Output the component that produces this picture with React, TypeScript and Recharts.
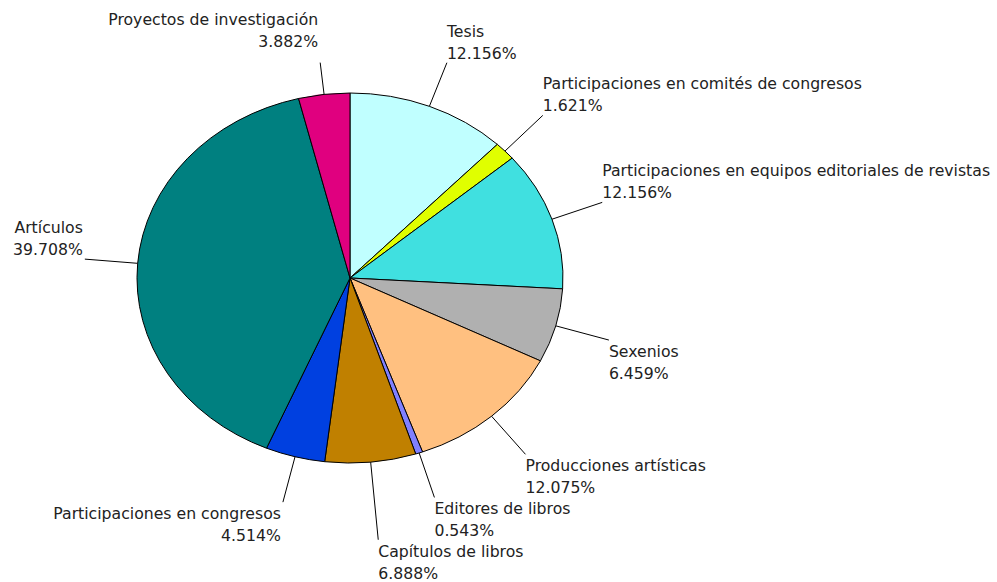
import { PieChart, Pie, Cell } from 'recharts'

const categories = [
  'Tesis',
  'Participaciones en comités de congresos',
  'Participaciones en equipos editoriales de revistas',
  'Sexenios',
  'Producciones artísticas',
  'Editores de libros',
  'Capítulos de libros',
  'Participaciones en congresos',
  'Artículos',
  'Proyectos de investigación'
]

const shares = [12.156, 1.621, 12.156, 6.459, 12.075, 0.543, 6.888, 4.514, 39.708, 3.882]

const COLORS = [
  '#C0FFFF',
  '#E0FF00',
  '#40E0E0',
  '#B0B0B0',
  '#FFC080',
  '#8080FF',
  '#C08000',
  '#0040E0',
  '#008080',
  '#E0007F'
]

// leader line length tweaks, Excel pushes a couple of labels around
const LEADER_EXTRA: Record<string, number> = {
  'Capítulos de libros': 31,
  'Proyectos de investigación': -15,
  'Participaciones en comités de congresos': 5,
  'Participaciones en equipos editoriales de revistas': 6,
  Sexenios: 8,
  Artículos: 6,
  'Producciones artísticas': 4
}

// label text sitting further up than the leader end
const TEXT_SHIFT: Record<string, number> = {
  'Proyectos de investigación': -12
}

const data = categories.map((name, i) => ({ name, value: shares[i] }))

const RADIAN = Math.PI / 180
const STRETCH = 213 / 185 // the pie is drawn wider than tall
const FONT = '"DejaVu Sans", Verdana, sans-serif'

const EllipseSector = (props: any) => {
  const { cx, cy, outerRadius, startAngle, endAngle, fill } = props
  const rx = outerRadius * STRETCH
  const ry = outerRadius
  const x1 = cx + rx * Math.cos(startAngle * RADIAN)
  const y1 = cy - ry * Math.sin(startAngle * RADIAN)
  const x2 = cx + rx * Math.cos(endAngle * RADIAN)
  const y2 = cy - ry * Math.sin(endAngle * RADIAN)
  const large = Math.abs(endAngle - startAngle) > 180 ? 1 : 0
  const sweep = endAngle < startAngle ? 1 : 0
  return (
    <path
      d={`M${cx},${cy} L${x1},${y1} A${rx},${ry} 0 ${large} ${sweep} ${x2},${y2} Z`}
      fill={fill}
      stroke="#000"
      strokeWidth={1}
    />
  )
}

const renderLabel = (props: any) => {
  const { cx, cy, midAngle, outerRadius, index } = props
  const name = categories[index]
  const d = 47 + (LEADER_EXTRA[name] || 0)
  const c = Math.cos(midAngle * RADIAN)
  const s = Math.sin(midAngle * RADIAN)
  const sx = cx + outerRadius * STRETCH * c
  const sy = cy - outerRadius * s
  const ex = cx + (outerRadius * STRETCH + d) * c
  const ey = cy - (outerRadius + d) * s
  const right = c >= 0
  const upper = s > 0
  const tx = right ? ex : ex - 2
  const first = (upper ? ey - 26 : ey + 17) + (TEXT_SHIFT[name] || 0)
  return (
    <g>
      <line x1={sx} y1={sy} x2={ex} y2={ey} stroke="#000" strokeWidth={1} />
      <text
        x={tx}
        y={first}
        fill="#222"
        fontSize={15.7}
        fontFamily={FONT}
        textAnchor={right ? 'start' : 'end'}
      >
        <tspan x={tx} y={first}>{name}</tspan>
        <tspan x={tx} y={first + 22}>{`${shares[index].toFixed(3)}%`}</tspan>
      </text>
    </g>
  )
}

const App = () => {
  return (
    <div style={{ position: 'absolute', left: 0, top: 0, background: '#fff' }}>
      <PieChart width={997} height={582} margin={{ top: 0, right: 0, bottom: 0, left: 0 }}>
        <Pie
          data={data}
          dataKey="value"
          nameKey="name"
          cx={350}
          cy={278}
          outerRadius={185}
          startAngle={90}
          endAngle={-270}
          isAnimationActive={false}
          shape={EllipseSector}
          label={renderLabel}
          labelLine={false}
        >
          {data.map((entry, index) => (
            <Cell key={`cell-${index}`} fill={COLORS[index]} />
          ))}
        </Pie>
      </PieChart>
    </div>
  )
}

export default App
